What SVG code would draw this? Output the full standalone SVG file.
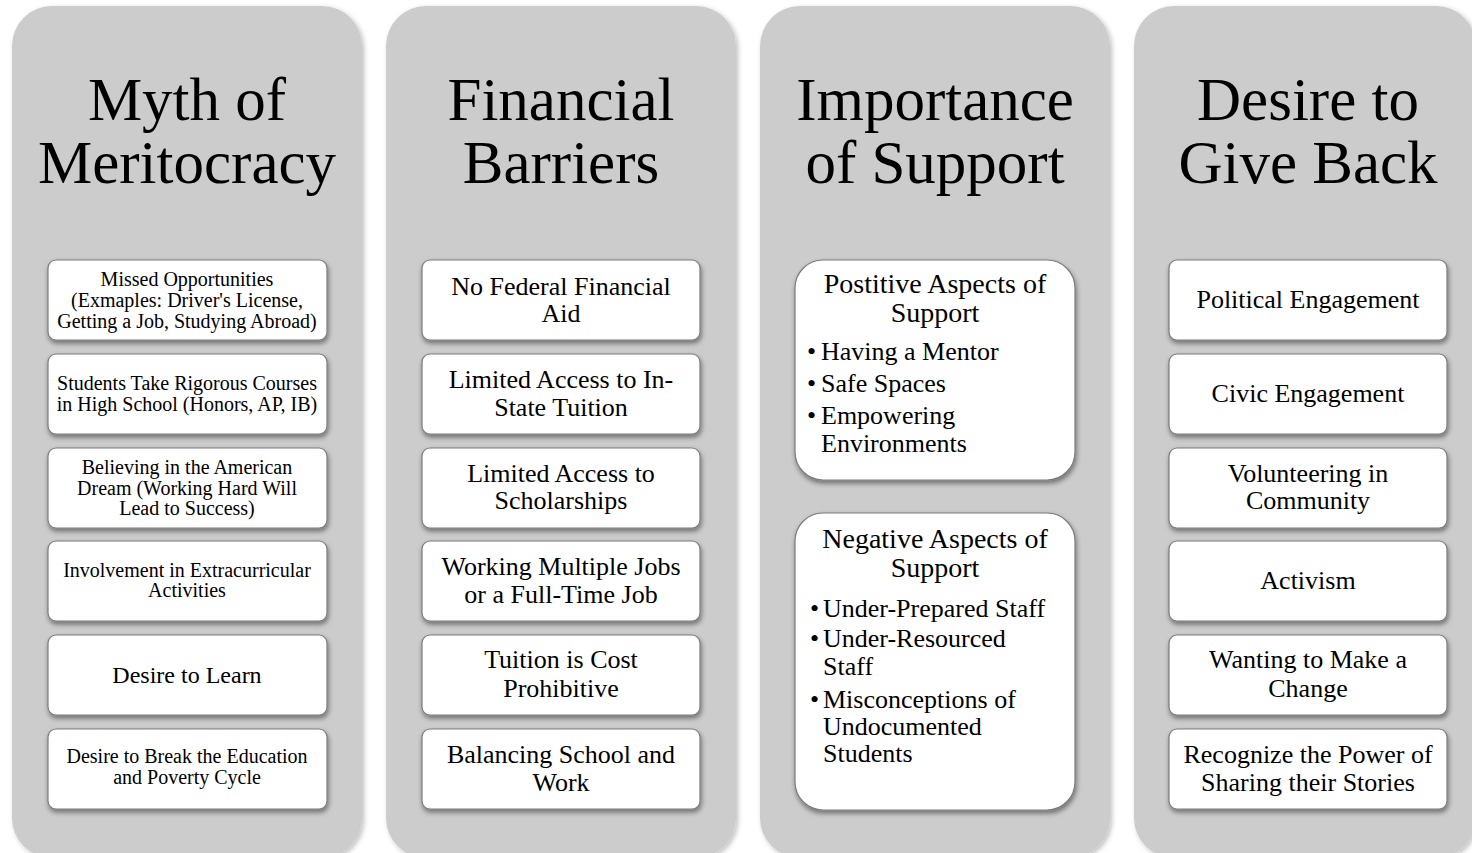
<svg xmlns="http://www.w3.org/2000/svg" width="1472" height="853" viewBox="0 0 1472 853">
<defs>
<filter id="colShadow" x="-10%" y="-10%" width="120%" height="120%">
<feDropShadow dx="2" dy="2" stdDeviation="2.5" flood-color="#000" flood-opacity="0.25"/>
</filter>
<filter id="boxShadow" x="-10%" y="-20%" width="120%" height="150%">
<feDropShadow dx="1" dy="3" stdDeviation="2.5" flood-color="#000" flood-opacity="0.45"/>
</filter>
</defs>
<style>
.col{fill:#cccccc;filter:url(#colShadow)}
.box{fill:#ffffff;stroke:#7a7a7a;stroke-width:1.2;filter:url(#boxShadow)}
text{font-family:"Liberation Serif","Times New Roman",serif;fill:#000}
.ttl{font-size:61px;text-anchor:middle}
.c{text-anchor:middle}
.f20{font-size:20px}
.f24{font-size:24px}
.f26{font-size:26px}
.f28{font-size:28px}
</style>
<rect width="1472" height="853" fill="#ffffff"/>

<g id="col1">
<rect class="col" x="12" y="6" width="350" height="852" rx="40"/>
<text class="ttl" x="187" y="120">Myth of</text>
<text class="ttl" x="187" y="183">Meritocracy</text>
</g>
<g id="col2">
<rect class="col" x="386" y="6" width="350" height="852" rx="40"/>
<text class="ttl" x="561" y="120">Financial</text>
<text class="ttl" x="561" y="183">Barriers</text>
</g>
<g id="col3">
<rect class="col" x="760" y="6" width="350" height="852" rx="40"/>
<text class="ttl" x="935" y="120">Importance</text>
<text class="ttl" x="935" y="183">of Support</text>
</g>
<g id="col4">
<rect class="col" x="1134" y="6" width="342" height="852" rx="40"/>
<text class="ttl" x="1308" y="120">Desire to</text>
<text class="ttl" x="1308" y="183">Give Back</text>
</g>

<g id="c1b1"><rect class="box" x="48" y="260" width="279" height="80" rx="8"/>
<text class="c f20" x="187" y="286">Missed Opportunities</text>
<text class="c f20" x="187" y="307">(Exmaples: Driver's License,</text>
<text class="c f20" x="187" y="328">Getting a Job, Studying Abroad)</text></g>
<g id="c1b2"><rect class="box" x="48" y="354" width="279" height="80" rx="8"/>
<text class="c f20" x="187" y="390">Students Take Rigorous Courses</text>
<text class="c f20" x="187" y="411">in High School (Honors, AP, IB)</text></g>
<g id="c1b3"><rect class="box" x="48" y="448" width="279" height="80" rx="8"/>
<text class="c f20" x="187" y="474">Believing in the American</text>
<text class="c f20" x="187" y="494.5">Dream (Working Hard Will</text>
<text class="c f20" x="187" y="515">Lead to Success)</text></g>
<g id="c1b4"><rect class="box" x="48" y="541" width="279" height="80" rx="8"/>
<text class="c f20" x="187" y="577">Involvement in Extracurricular</text>
<text class="c f20" x="187" y="597">Activities</text></g>
<g id="c1b5"><rect class="box" x="48" y="635" width="279" height="80" rx="8"/>
<text class="c f24" x="187" y="683">Desire to Learn</text></g>
<g id="c1b6"><rect class="box" x="48" y="729" width="279" height="80" rx="8"/>
<text class="c f20" x="187" y="763">Desire to Break the Education</text>
<text class="c f20" x="187" y="784">and Poverty Cycle</text></g>

<g id="c2b1"><rect class="box" x="422" y="260" width="278" height="80" rx="8"/>
<text class="c f26" x="561" y="295">No Federal Financial</text>
<text class="c f26" x="561" y="322">Aid</text></g>
<g id="c2b2"><rect class="box" x="422" y="354" width="278" height="80" rx="8"/>
<text class="c f26" x="561" y="388">Limited Access to In-</text>
<text class="c f26" x="561" y="416">State Tuition</text></g>
<g id="c2b3"><rect class="box" x="422" y="448" width="278" height="80" rx="8"/>
<text class="c f26" x="561" y="482">Limited Access to</text>
<text class="c f26" x="561" y="509">Scholarships</text></g>
<g id="c2b4"><rect class="box" x="422" y="541" width="278" height="80" rx="8"/>
<text class="c f26" x="561" y="575">Working Multiple Jobs</text>
<text class="c f26" x="561" y="603">or a Full-Time Job</text></g>
<g id="c2b5"><rect class="box" x="422" y="635" width="278" height="80" rx="8"/>
<text class="c f26" x="561" y="668">Tuition is Cost</text>
<text class="c f26" x="561" y="697">Prohibitive</text></g>
<g id="c2b6"><rect class="box" x="422" y="729" width="278" height="80" rx="8"/>
<text class="c f26" x="561" y="763">Balancing School and</text>
<text class="c f26" x="561" y="791">Work</text></g>

<g id="c3b1"><rect class="box" x="795" y="260" width="280" height="220" rx="28"/>
<text class="c f28" x="935" y="293">Postitive Aspects of</text>
<text class="c f28" x="935" y="322">Support</text>
<text class="f26" x="807" y="360">•</text><text class="f26" x="821" y="360">Having a Mentor</text>
<text class="f26" x="807" y="392">•</text><text class="f26" x="821" y="392">Safe Spaces</text>
<text class="f26" x="807" y="424">•</text><text class="f26" x="821" y="424">Empowering</text>
<text class="f26" x="821" y="452">Environments</text></g>
<g id="c3b2"><rect class="box" x="795" y="513" width="280" height="297" rx="28"/>
<text class="c f28" x="935" y="548">Negative Aspects of</text>
<text class="c f28" x="935" y="577">Support</text>
<text class="f26" x="810" y="617">•</text><text class="f26" x="823" y="617">Under-Prepared Staff</text>
<text class="f26" x="810" y="647">•</text><text class="f26" x="823" y="647">Under-Resourced</text>
<text class="f26" x="823" y="675">Staff</text>
<text class="f26" x="810" y="708">•</text><text class="f26" x="823" y="708">Misconceptions of</text>
<text class="f26" x="823" y="735">Undocumented</text>
<text class="f26" x="823" y="762">Students</text></g>

<g id="c4b1"><rect class="box" x="1169" y="260" width="278" height="80" rx="8"/>
<text class="c f26" x="1308" y="308">Political Engagement</text></g>
<g id="c4b2"><rect class="box" x="1169" y="354" width="278" height="80" rx="8"/>
<text class="c f26" x="1308" y="402">Civic Engagement</text></g>
<g id="c4b3"><rect class="box" x="1169" y="448" width="278" height="80" rx="8"/>
<text class="c f26" x="1308" y="482">Volunteering in</text>
<text class="c f26" x="1308" y="509">Community</text></g>
<g id="c4b4"><rect class="box" x="1169" y="541" width="278" height="80" rx="8"/>
<text class="c f26" x="1308" y="589">Activism</text></g>
<g id="c4b5"><rect class="box" x="1169" y="635" width="278" height="80" rx="8"/>
<text class="c f26" x="1308" y="668">Wanting to Make a</text>
<text class="c f26" x="1308" y="697">Change</text></g>
<g id="c4b6"><rect class="box" x="1169" y="729" width="278" height="80" rx="8"/>
<text class="c f26" x="1308" y="763">Recognize the Power of</text>
<text class="c f26" x="1308" y="791">Sharing their Stories</text></g>

<g id="connectors"></g>
</svg>
